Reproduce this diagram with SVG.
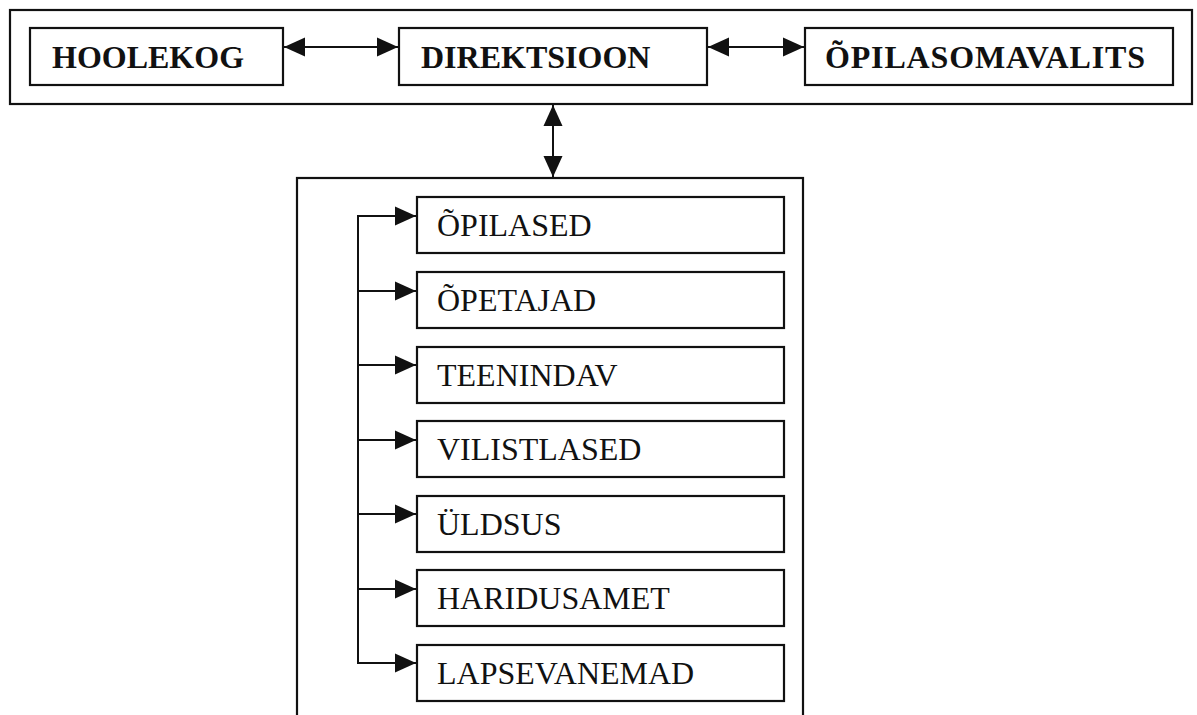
<svg xmlns="http://www.w3.org/2000/svg" width="1197" height="715" viewBox="0 0 1197 715">
<style>
.box{fill:#fff;stroke:#111;stroke-width:2.2}
.frame{fill:none;stroke:#111;stroke-width:2.2}
.line{fill:none;stroke:#111;stroke-width:2}
.tb{font-family:"Liberation Serif","Times New Roman",serif;font-weight:bold;font-size:32px;fill:#111}
.t{font-family:"Liberation Serif","Times New Roman",serif;font-size:32px;fill:#111}
</style>
<defs>
<marker id="ah" markerUnits="userSpaceOnUse" markerWidth="22" markerHeight="20" viewBox="0 0 22 20" refX="21" refY="10" orient="auto-start-reverse">
<path d="M0,0.5 L21,10 L0,19.5 Z" fill="#111"/>
</marker>
</defs>
<rect class="frame" x="10" y="10" width="1182" height="94"/>
<rect class="frame" x="297" y="178" width="506" height="560"/>
<g id="hoolekog"><rect class="box" x="30" y="28" width="253" height="57"/><text class="tb" x="52" y="68">HOOLEKOG</text></g>
<g id="direktsioon"><rect class="box" x="399" y="28" width="308" height="57"/><text class="tb" x="421" y="68">DIREKTSIOON</text></g>
<g id="opilasomavalits"><rect class="box" x="805" y="28" width="368" height="57"/><text class="tb" x="825" y="68" textLength="320" lengthAdjust="spacing">ÕPILASOMAVALITS</text></g>
<g id="opilased"><rect class="box" x="417" y="197" width="367" height="56"/><text class="t" x="437" y="236">ÕPILASED</text></g>
<g id="opetajad"><rect class="box" x="417" y="272" width="367" height="56"/><text class="t" x="437" y="311">ÕPETAJAD</text></g>
<g id="teenindav"><rect class="box" x="417" y="347" width="367" height="56"/><text class="t" x="437" y="386">TEENINDAV</text></g>
<g id="vilistlased"><rect class="box" x="417" y="421" width="367" height="56"/><text class="t" x="437" y="460">VILISTLASED</text></g>
<g id="uldsus"><rect class="box" x="417" y="496" width="367" height="56"/><text class="t" x="437" y="535">ÜLDSUS</text></g>
<g id="haridusamet"><rect class="box" x="417" y="570" width="367" height="56"/><text class="t" x="437" y="609">HARIDUSAMET</text></g>
<g id="lapsevanemad"><rect class="box" x="417" y="645" width="367" height="56"/><text class="t" x="437" y="684">LAPSEVANEMAD</text></g>
<g id="connectors">
<line class="line" x1="284" y1="47" x2="398" y2="47" marker-start="url(#ah)" marker-end="url(#ah)"/>
<line class="line" x1="708" y1="47" x2="804" y2="47" marker-start="url(#ah)" marker-end="url(#ah)"/>
<line class="line" x1="553" y1="105" x2="553" y2="177" marker-start="url(#ah)" marker-end="url(#ah)"/>
<line class="line" x1="358" y1="215" x2="358" y2="664"/>
<line class="line" x1="357" y1="216" x2="416" y2="216" marker-end="url(#ah)"/>
<line class="line" x1="357" y1="291" x2="416" y2="291" marker-end="url(#ah)"/>
<line class="line" x1="357" y1="365" x2="416" y2="365" marker-end="url(#ah)"/>
<line class="line" x1="357" y1="440" x2="416" y2="440" marker-end="url(#ah)"/>
<line class="line" x1="357" y1="514" x2="416" y2="514" marker-end="url(#ah)"/>
<line class="line" x1="357" y1="589" x2="416" y2="589" marker-end="url(#ah)"/>
<line class="line" x1="357" y1="663" x2="416" y2="663" marker-end="url(#ah)"/>
</g>
</svg>
